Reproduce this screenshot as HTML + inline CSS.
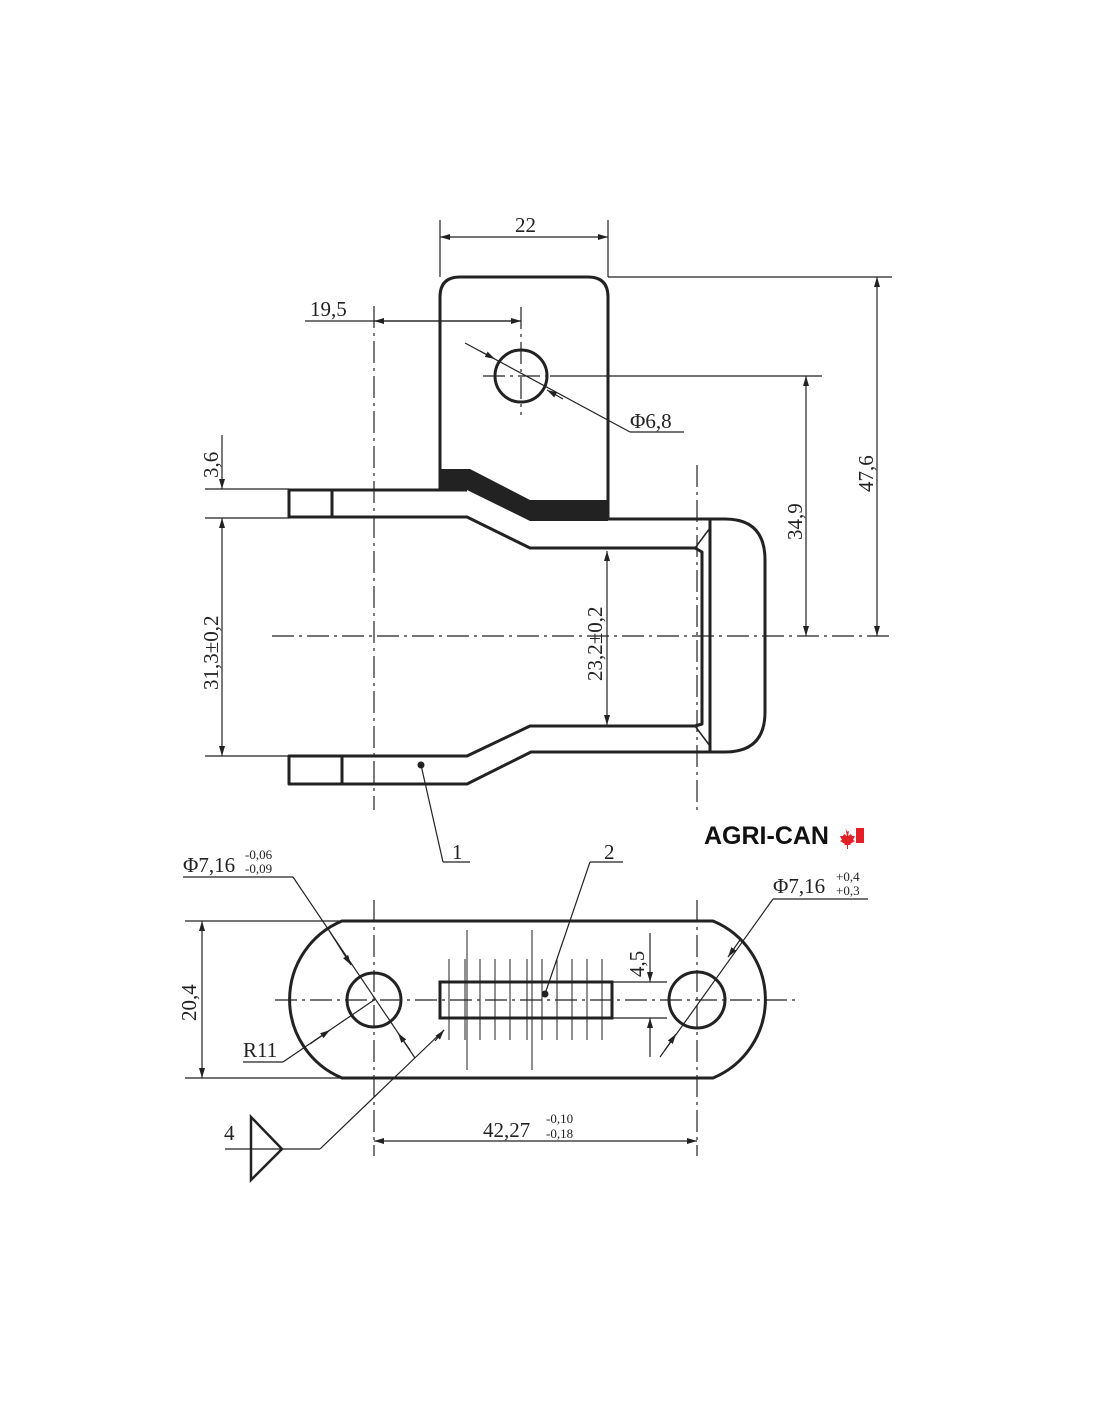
<!DOCTYPE html>
<html><head><meta charset="utf-8"><style>
html,body{margin:0;padding:0;background:#fff;}
svg{display:block;}
text{font-family:"Liberation Serif",serif;fill:#222;}
</style></head><body>
<svg width="1100" height="1422" viewBox="0 0 1100 1422" xmlns="http://www.w3.org/2000/svg">
<defs>
<marker id="a" viewBox="0 0 10 6" refX="10" refY="3" markerWidth="10" markerHeight="6" orient="auto-start-reverse" markerUnits="userSpaceOnUse"><path d="M0,0 L10,3 L0,6z" fill="#222"/></marker>
</defs>
<g fill="none" stroke="#222">
<g stroke-width="3" stroke-linejoin="round">
<path d="M440,490 L440,297 Q440,277 460,277 L588,277 Q608,277 608,297 L608,519"/>
<path d="M440,490 L289,490 L289,517 L467,517 L530,548 L695,548 L702,552 L702,724 L695,726 L530,726 L467,756 L289,756 L289,784 L467,784 L531,752 L725,752 Q765,752 765,712 L765,560 Q765,519 725,519 L608,519"/>
<line x1="332" y1="490" x2="332" y2="517"/>
<line x1="342" y1="756" x2="342" y2="784"/>
<line x1="710" y1="519" x2="710" y2="752"/>
<line x1="467" y1="490" x2="440" y2="490"/>
</g>
<g stroke-width="1.5">
<line x1="695" y1="548" x2="710" y2="528"/>
<line x1="695" y1="726" x2="710" y2="746"/>
</g>
<path d="M440,469 L470,469 L530,500 L608,500 L608,521 L530,521 L465,489 L440,489z" fill="#222" stroke="none"/>
<circle cx="521" cy="376" r="26" stroke-width="3"/>
<g stroke-width="3">
<path d="M342,921 L713,921 A85,85 0 0 1 713,1078 L342,1078 A85,85 0 0 1 342,921z"/>
<circle cx="374" cy="1000" r="27"/>
<circle cx="697" cy="1000" r="28"/>
<rect x="440" y="982" width="172" height="36"/>
<path d="M251,1117 L282,1149 L251,1180z" stroke-width="2.5"/>
</g>
<g stroke-width="1.2">
<line x1="440" y1="220" x2="440" y2="277"/>
<line x1="608" y1="220" x2="608" y2="277"/>
<line x1="440" y1="237" x2="608" y2="237" marker-start="url(#a)" marker-end="url(#a)"/>
<line x1="608" y1="277" x2="892" y2="277"/>
<line x1="877" y1="277" x2="877" y2="636" marker-start="url(#a)" marker-end="url(#a)"/>
<line x1="550" y1="376" x2="822" y2="376"/>
<line x1="806" y1="376" x2="806" y2="636" marker-start="url(#a)" marker-end="url(#a)"/>
<line x1="305" y1="321" x2="521" y2="321"/>
<line x1="374" y1="321" x2="521" y2="321" marker-start="url(#a)" marker-end="url(#a)"/>
<line x1="465" y1="343" x2="630" y2="432"/>
<line x1="480" y1="351" x2="495" y2="359" marker-end="url(#a)"/>
<line x1="563" y1="399" x2="547" y2="390" marker-end="url(#a)"/>
<line x1="630" y1="432" x2="684" y2="432"/>
<line x1="205" y1="489" x2="289" y2="489"/>
<line x1="205" y1="518" x2="289" y2="518"/>
<line x1="205" y1="756" x2="289" y2="756"/>
<line x1="222" y1="435" x2="222" y2="489" marker-end="url(#a)"/>
<line x1="222" y1="518" x2="222" y2="756" marker-start="url(#a)" marker-end="url(#a)"/>
<line x1="607" y1="551" x2="607" y2="725" marker-start="url(#a)" marker-end="url(#a)"/>
<line x1="421" y1="765" x2="443" y2="862"/>
<line x1="443" y1="862" x2="470" y2="862"/>
<line x1="185" y1="921" x2="342" y2="921"/>
<line x1="185" y1="1078" x2="342" y2="1078"/>
<line x1="202" y1="921" x2="202" y2="1078" marker-start="url(#a)" marker-end="url(#a)"/>
<line x1="612" y1="982" x2="667" y2="982"/>
<line x1="612" y1="1018" x2="667" y2="1018"/>
<line x1="650" y1="933" x2="650" y2="982" marker-end="url(#a)"/>
<line x1="650" y1="1057" x2="650" y2="1018" marker-end="url(#a)"/>
<line x1="374" y1="1141" x2="697" y2="1141" marker-start="url(#a)" marker-end="url(#a)"/>
<line x1="183" y1="877" x2="293" y2="877"/>
<line x1="293" y1="877" x2="415" y2="1058"/>
<line x1="330" y1="932" x2="351" y2="965" marker-end="url(#a)"/>
<line x1="410" y1="1050" x2="398" y2="1033" marker-end="url(#a)"/>
<line x1="243" y1="1062" x2="283" y2="1062"/>
<line x1="283" y1="1062" x2="374" y2="1000"/>
<line x1="310" y1="1044" x2="330" y2="1030" marker-end="url(#a)"/>
<line x1="773" y1="899" x2="868" y2="899"/>
<line x1="773" y1="899" x2="660" y2="1057"/>
<line x1="740" y1="940" x2="728" y2="957" marker-end="url(#a)"/>
<line x1="665" y1="1050" x2="676" y2="1034" marker-end="url(#a)"/>
<line x1="545" y1="994" x2="590" y2="862"/>
<line x1="590" y1="862" x2="623" y2="862"/>
<line x1="225" y1="1149" x2="320" y2="1149"/>
<line x1="320" y1="1149" x2="444" y2="1030"/>
<line x1="435" y1="1041" x2="444" y2="1030" marker-end="url(#a)"/>
<g stroke-width="1">
<line x1="449" y1="959" x2="449" y2="1040"/><line x1="465" y1="959" x2="465" y2="1040"/>
<line x1="480" y1="959" x2="480" y2="1040"/><line x1="495" y1="959" x2="495" y2="1040"/>
<line x1="510" y1="959" x2="510" y2="1040"/><line x1="527" y1="959" x2="527" y2="1040"/>
<line x1="542" y1="959" x2="542" y2="1040"/><line x1="557" y1="959" x2="557" y2="1040"/>
<line x1="572" y1="959" x2="572" y2="1040"/><line x1="587" y1="959" x2="587" y2="1040"/>
<line x1="602" y1="959" x2="602" y2="1040"/>
<line x1="467" y1="930" x2="467" y2="1070"/><line x1="532" y1="930" x2="532" y2="1070"/>
</g>
</g>
<g stroke-width="1.2" stroke-dasharray="22,5,3,5">
<line x1="374" y1="306" x2="374" y2="810"/>
<line x1="697" y1="465" x2="697" y2="810"/>
<line x1="272" y1="636" x2="890" y2="636"/>
<line x1="521" y1="307" x2="521" y2="415"/>
<line x1="483" y1="376" x2="550" y2="376"/>
<line x1="275" y1="1000" x2="797" y2="1000"/>
<line x1="374" y1="900" x2="374" y2="1156"/>
<line x1="697" y1="900" x2="697" y2="1156"/>
</g>
</g>
<circle cx="421" cy="765" r="3.5" fill="#222"/>
<circle cx="545" cy="994" r="3.5" fill="#222"/>
<g font-size="21">
<text x="515" y="232">22</text>
<text x="310" y="316">19,5</text>
<text x="630" y="428">Φ6,8</text>
<text transform="translate(218,478) rotate(-90)">3,6</text>
<text transform="translate(218,690) rotate(-90)">31,3±0,2</text>
<text transform="translate(602,681) rotate(-90)">23,2±0,2</text>
<text transform="translate(802,540) rotate(-90)">34,9</text>
<text transform="translate(873,492) rotate(-90)">47,6</text>
<text x="452" y="859">1</text>
<text x="604" y="859">2</text>
<text transform="translate(196,1021) rotate(-90)">20,4</text>
<text transform="translate(644,977) rotate(-90)">4,5</text>
<text x="243" y="1057">R11</text>
<text x="224" y="1140">4</text>
<text x="183" y="872">Φ7,16</text>
<text x="483" y="1137">42,27</text>
<text x="773" y="893">Φ7,16</text>
</g>
<g font-size="13">
<text x="245" y="859">-0,06</text><text x="245" y="873">-0,09</text>
<text x="546" y="1123">-0,10</text><text x="546" y="1138">-0,18</text>
<text x="836" y="881">+0,4</text><text x="836" y="895">+0,3</text>
</g>
<text x="704" y="844" style="font-family:'Liberation Sans',sans-serif;font-weight:bold;font-size:25px;fill:#111">AGRI-CAN</text>
<path d="M845,828 l2,4 2,-1 -1,5 3,-2 1,2 3,0 -2,4 2,1 -5,3 1,1 h-3 v4 h-1 v-4 h-3 l1,-1 -5,-3 2,-1 -2,-4 3,0 1,-2 3,2 -1,-5 2,1z" fill="#e21f26"/>
<rect x="856" y="828" width="8" height="15" fill="#e21f26"/>
</svg>
</body></html>
